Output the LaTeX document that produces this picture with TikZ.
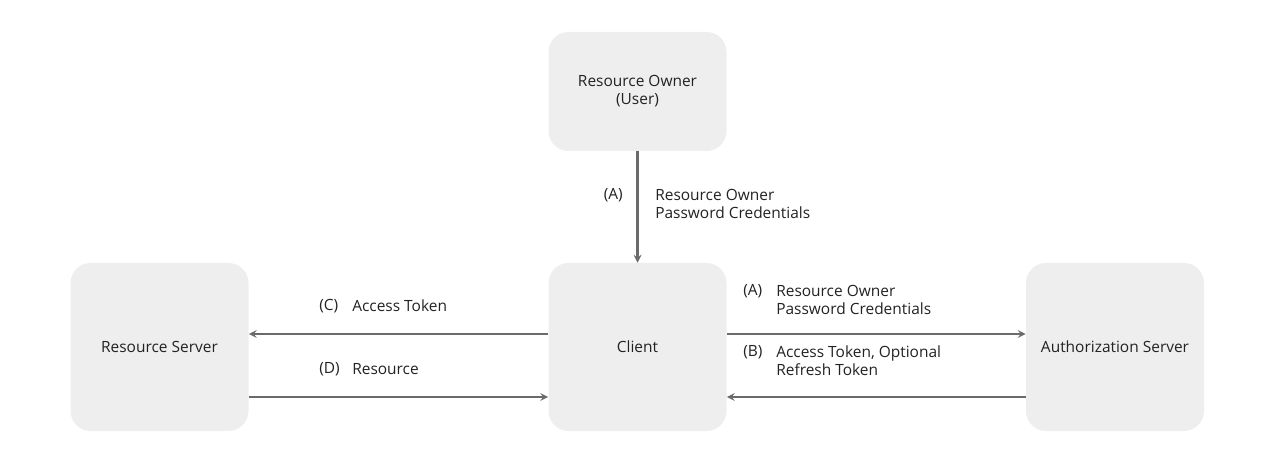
\documentclass[tikz,border=0pt]{standalone}
\usepackage{fontspec}
\setmainfont{Open Sans}
\definecolor{boxgray}{HTML}{EEEEEE}
\definecolor{linegray}{HTML}{6B6B6B}
\definecolor{textgray}{HTML}{222222}

\begin{document}
\begin{tikzpicture}[x=0.75pt,y=-0.75pt,
    party/.style={fill=boxgray,rounded corners=15pt,minimum width=133.5pt,
      minimum height=126pt,align=center,text=textgray,
      font=\fontsize{11.6}{13.5}\selectfont},
    flow/.style={-stealth,line width=1.6pt,draw=linegray},
    lbl/.style={inner sep=0pt,align=left,text=textgray,
      font=\fontsize{11.6}{13.5}\selectfont}]
    \useasboundingbox (0,0) rectangle (1284,459);
    \node[party,minimum height=89.25pt] (owner) at (637.5,91.5) {Resource Owner\\(User)};
    \node[party] (client) at (637.5,347) {Client};
    \node[party] (rs) at (159.5,347) {Resource Server};
    \node[party] (as) at (1115,347) {Authorization Server};
    \draw[flow] (owner) -- (client);
    \draw[flow] (client.west |- 0,334) -- (rs.east |- 0,334);
    \draw[flow] (rs.east |- 0,397) -- (client.west |- 0,397);
    \draw[flow] (client.east |- 0,334) -- (as.west |- 0,334);
    \draw[flow] (as.west |- 0,397) -- (client.east |- 0,397);
    \node[lbl,anchor=east] (a1) at (623,195) {(A)};
    \node[lbl,anchor=west] (a1t) at (655,204) {Resource Owner\\Password Credentials};
    \node[lbl,anchor=west] (a2) at (743,291) {(A)};
    \node[lbl,anchor=west] (a2t) at (776,300) {Resource Owner\\Password Credentials};
    \node[lbl,anchor=west] (b) at (743,352) {(B)};
    \node[lbl,anchor=west] (bt) at (776,361) {Access Token, Optional\\Refresh Token};
    \node[lbl,anchor=west] (c) at (319,306) {(C)};
    \node[lbl,anchor=west] (ct) at (352,306) {Access Token};
    \node[lbl,anchor=west] (d) at (319,369) {(D)};
    \node[lbl,anchor=west] (dt) at (352,369) {Resource};
\end{tikzpicture}
\end{document}
